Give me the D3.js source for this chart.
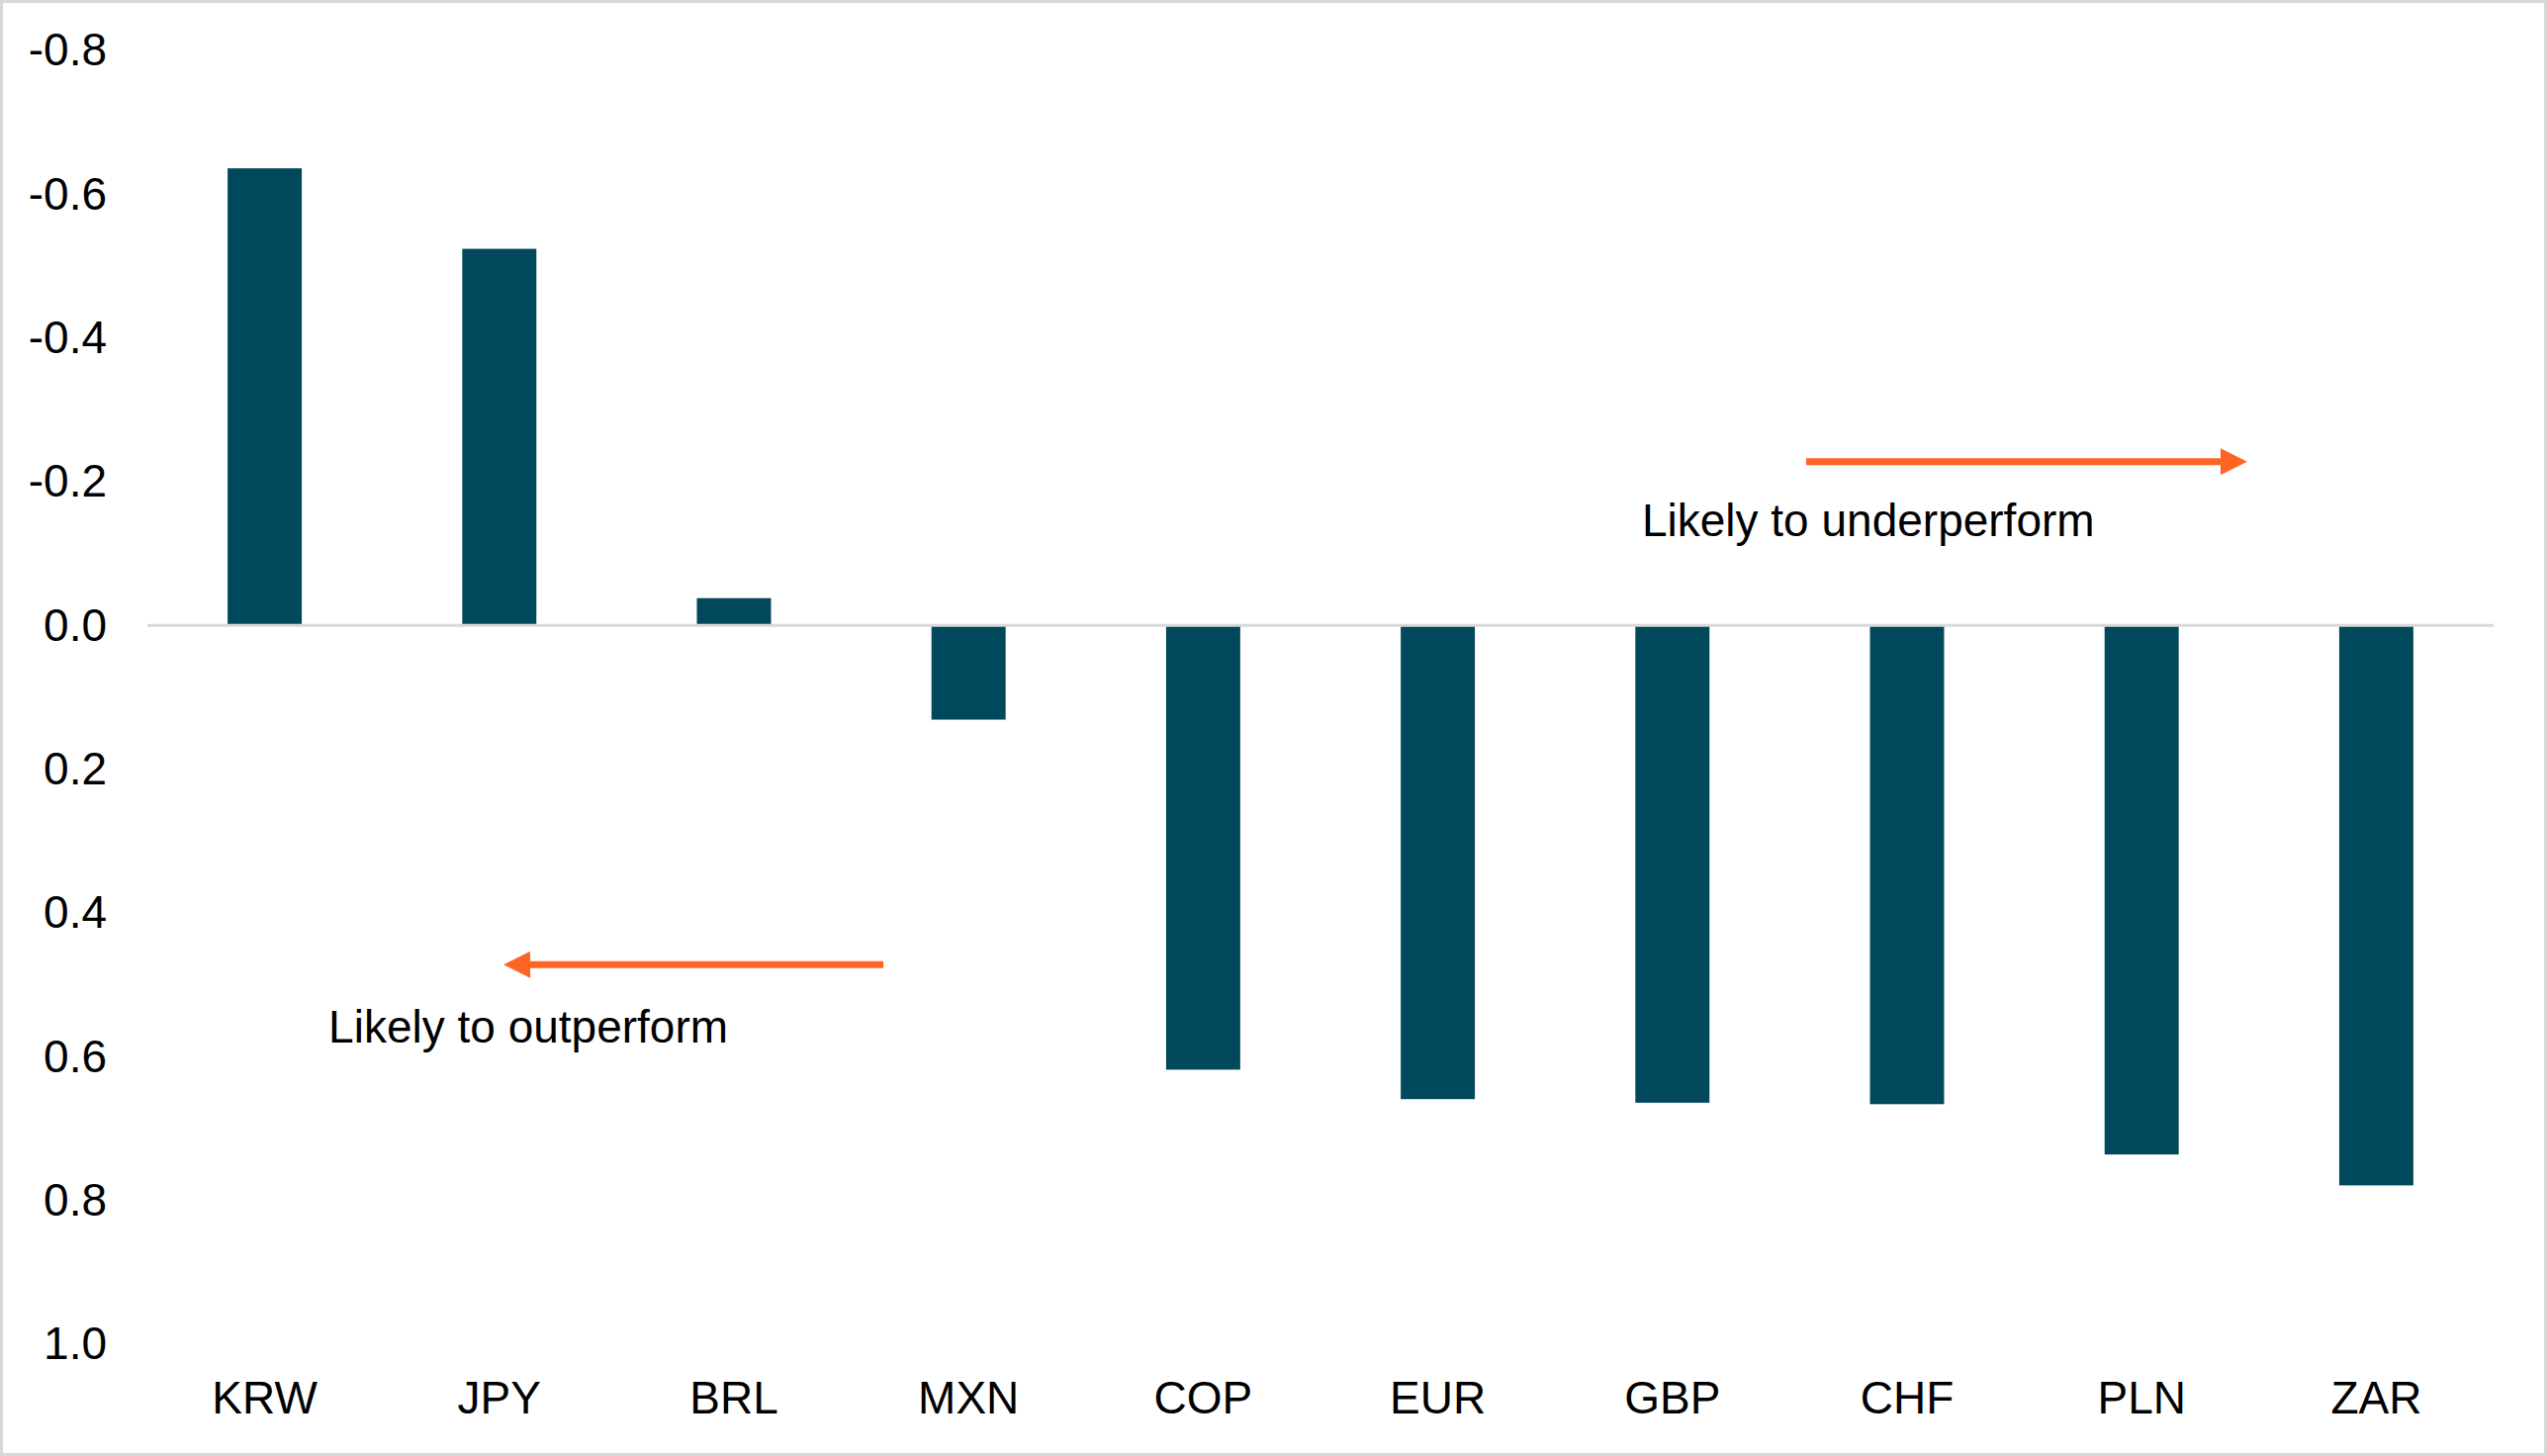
<!DOCTYPE html>
<html>
<head>
<meta charset="utf-8">
<script src="https://cdn.jsdelivr.net/npm/d3@7"></script>
<style>
  html, body { margin: 0; padding: 0; background: #fff; }
  svg { display: block; }
  text { font-family: "Liberation Sans", Arial, sans-serif; }
</style>
</head>
<body>
<svg id="chart"></svg>
<script>
const currencies = ["KRW", "JPY", "BRL", "MXN", "COP", "EUR", "GBP", "CHF", "PLN", "ZAR"];
const scores = [-0.636, -0.524, -0.038, 0.131, 0.618, 0.659, 0.664, 0.666, 0.736, 0.779];
const yTicks = [-0.8, -0.6, -0.4, -0.2, 0.0, 0.2, 0.4, 0.6, 0.8, 1.0];
const yDomain = [-0.8, 1.0];

// annotation labels (direction arrows)
const notes = [
  { text: "Likely to underperform", from: 0.707, to: 0.895, arrowAt: -0.228, textX: 0.637, textAt: -0.124 },
  { text: "Likely to outperform", from: 0.3137, to: 0.1518, arrowAt: 0.472, textX: 0.0772, textAt: 0.580 }
];

const W = 2575, H = 1472;
const margin = { top: 51, right: 54, bottom: 112, left: 149 };
const barColor = "#02485d";
const arrowColor = "#fe6424";
const fontSize = 46;

const svg = d3.select("#chart").attr("width", W).attr("height", H);

svg.append("rect")
  .attr("x", 1.5).attr("y", 1.5)
  .attr("width", W - 3).attr("height", H - 3)
  .attr("fill", "#fff")
  .attr("stroke", "#d9d9d9")
  .attr("stroke-width", 3);

const x = d3.scaleBand()
  .domain(currencies)
  .range([margin.left, W - margin.right])
  .paddingInner(0.684)
  .paddingOuter(0.342);

const y = d3.scaleLinear()
  .domain(yDomain)
  .range([margin.top, H - margin.bottom - 1]);

const xPos = d3.scaleLinear()
  .domain([0, 1])
  .range([margin.left, W - margin.right]);

// y axis labels
const yAxis = svg.append("g")
  .attr("transform", `translate(${margin.left},0)`)
  .call(d3.axisLeft(y).tickValues(yTicks).tickSize(0).tickPadding(41)
    .tickFormat(d => d.toFixed(1)));
yAxis.select(".domain").remove();
yAxis.selectAll("text")
  .attr("font-size", fontSize)
  .attr("font-family", "Liberation Sans, Arial, sans-serif")
  .attr("fill", "#000");

// bars
svg.append("g")
  .selectAll("rect")
  .data(scores)
  .join("rect")
  .attr("x", (d, i) => x(currencies[i]))
  .attr("width", x.bandwidth())
  .attr("y", d => Math.min(y(d), y(0)))
  .attr("height", d => Math.abs(y(d) - y(0)))
  .attr("fill", barColor);

// zero line
svg.append("line")
  .attr("x1", margin.left)
  .attr("x2", W - margin.right)
  .attr("y1", y(0))
  .attr("y2", y(0))
  .attr("stroke", "#d9d9d9")
  .attr("stroke-width", 3);

// category labels
const xAxis = svg.append("g")
  .attr("transform", `translate(0,${H - 76})`)
  .call(d3.axisBottom(x).tickSize(0).tickPadding(0));
xAxis.select(".domain").remove();
xAxis.selectAll("text")
  .attr("font-size", fontSize)
  .attr("font-family", "Liberation Sans, Arial, sans-serif")
  .attr("fill", "#000");

// arrows and notes
const headLen = 27, headHalf = 13.5;
notes.forEach(n => {
  const x0 = xPos(n.from), x1 = xPos(n.to), yy = y(n.arrowAt);
  const dir = Math.sign(x1 - x0);
  svg.append("line")
    .attr("x1", x0).attr("x2", x1 - dir * headLen)
    .attr("y1", yy).attr("y2", yy)
    .attr("stroke", arrowColor)
    .attr("stroke-width", 7);
  svg.append("path")
    .attr("d", `M${x1},${yy} L${x1 - dir * headLen},${yy - headHalf} L${x1 - dir * headLen},${yy + headHalf} Z`)
    .attr("fill", arrowColor);
  svg.append("text")
    .attr("x", xPos(n.textX))
    .attr("y", y(n.textAt))
    .attr("font-size", fontSize)
    .attr("fill", "#000")
    .text(n.text);
});
</script>
</body>
</html>
